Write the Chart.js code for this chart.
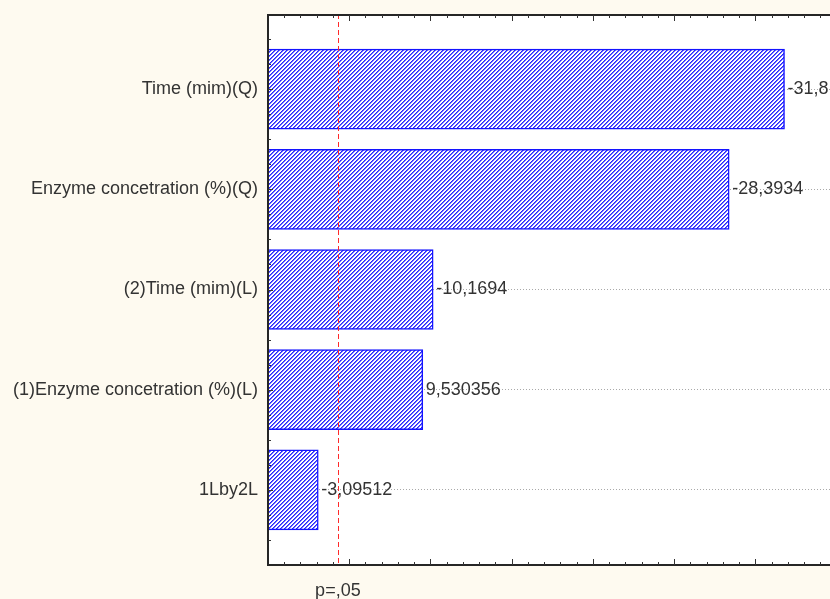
<!DOCTYPE html>
<html lang="en">
<head>
  <meta charset="UTF-8">
  <title>Pareto Chart of Standardized Effects</title>
  <script src="https://cdn.jsdelivr.net/npm/chart.js"></script>
  <style>
    html, body { margin: 0; padding: 0; background: #fefaf0; overflow: hidden; }
    #chartBox { width: 830px; height: 599px; }
  </style>
</head>
<body>
<div id="chartBox"><canvas id="paretoChart" width="830" height="599"></canvas></div>
<script>
  // Factors, top to bottom, with their standardized effects (t-values)
  const factors = ['Time (mim)(Q)', 'Enzyme concetration (%)(Q)', '(2)Time (mim)(L)', '(1)Enzyme concetration (%)(L)', '1Lby2L'];
  const effects = [-31.8, -28.3934, -10.1694, 9.530356, -3.09512];
  const pCrit = 4.303;      // critical t at p = .05
  const pLabel = 'p=,05';
  const xMax = 34.6;        // right part of the plot is cut off in the picture

  const labelFont = { family: '"Liberation Sans", Arial, sans-serif', size: 18 };
  const textColor = '#333';

  const canvas = document.getElementById('paretoChart');
  const ctx = canvas.getContext('2d');

  // blue "/" hatch fill
  function makeHatch() {
    const c = document.createElement('canvas');
    c.width = 4; c.height = 4;
    const g = c.getContext('2d');
    g.fillStyle = '#ffffff';
    g.fillRect(0, 0, 4, 4);
    for (let px = 0; px < 4; px++) {
      for (let py = 0; py < 4; py++) {
        const k = (px + py) % 4;
        if (k === 0) { g.fillStyle = '#2626ff'; g.fillRect(px, py, 1, 1); }
        else if (k === 1) { g.fillStyle = '#6a6aff'; g.fillRect(px, py, 1, 1); }
      }
    }
    return ctx.createPattern(c, 'repeat');
  }

  // background, frame, inner ticks, value labels and the p-line
  const paretoDecor = {
    id: 'paretoDecor',
    beforeDraw(chart) {
      const { ctx, chartArea: a } = chart;
      ctx.save();
      ctx.fillStyle = '#fefaf0';
      ctx.fillRect(0, 0, chart.width, chart.height);
      ctx.fillStyle = '#ffffff';
      ctx.fillRect(a.left, a.top, a.right - a.left, a.bottom - a.top);
      ctx.restore();
    },
    afterDatasetsDraw(chart) {
      const { ctx, chartArea: a, scales: { x, y } } = chart;
      ctx.save();

      // values next to the bars
      ctx.font = labelFont.size + 'px ' + labelFont.family;
      ctx.fillStyle = textColor;
      ctx.textAlign = 'left';
      ctx.textBaseline = 'middle';
      chart.getDatasetMeta(0).data.forEach((bar, i) => {
        ctx.fillText(String(effects[i]).replace('.', ','), bar.x + 3, bar.y);
      });

      // p = .05 line
      const lx = Math.round(x.getPixelForValue(pCrit)) + 0.5;
      ctx.strokeStyle = '#ff2a2a';
      ctx.lineWidth = 1;
      ctx.setLineDash([5, 3]);
      ctx.beginPath();
      ctx.moveTo(lx, a.top);
      ctx.lineTo(lx, a.bottom);
      ctx.stroke();
      ctx.setLineDash([]);

      // frame
      ctx.strokeStyle = '#262626';
      ctx.lineWidth = 2;
      ctx.beginPath();
      ctx.moveTo(a.right + 2, a.top + 1);
      ctx.lineTo(a.left, a.top + 1);
      ctx.lineTo(a.left, a.bottom);
      ctx.lineTo(a.right + 2, a.bottom);
      ctx.stroke();

      // inner ticks
      ctx.lineWidth = 1;
      ctx.strokeStyle = '#333';
      ctx.beginPath();
      for (let v = 1; v <= Math.floor(xMax); v++) {
        const px = Math.round(x.getPixelForValue(v)) + 0.5;
        const len = v % 5 === 0 ? 6 : 3;
        ctx.moveTo(px, a.bottom);
        ctx.lineTo(px, a.bottom - len);
        ctx.moveTo(px, a.top + 1);
        ctx.lineTo(px, a.top + 1 + len);
      }
      for (let k = 1; k < 22; k++) {
        const v = -0.75 + k * 0.25;
        const py = Math.round(y.getPixelForValue(v)) + 0.5;
        const len = Number.isInteger(v) ? 5 : 3;
        ctx.moveTo(a.left, py);
        ctx.lineTo(a.left + len, py);
      }
      ctx.stroke();
      ctx.restore();
    }
  };

  new Chart(ctx, {
    type: 'bar',
    data: {
      datasets: [{
        data: effects.map((v, i) => ({ x: Math.abs(v), y: i })),
        backgroundColor: makeHatch(),
        borderColor: '#1414ff',
        borderWidth: 1.5,
        barThickness: 80
      }]
    },
    options: {
      indexAxis: 'y',
      responsive: false,
      animation: false,
      layout: { padding: { top: 14, right: 0, bottom: 0, left: 0 } },
      plugins: {
        legend: { display: false },
        tooltip: { enabled: false }
      },
      scales: {
        x: {
          type: 'linear',
          min: 0,
          max: xMax,
          grid: { display: false, drawTicks: false },
          border: { display: false },
          afterBuildTicks: s => { s.ticks = [{ value: pCrit }]; },
          afterFit: s => { s.height = 34; s.paddingLeft = 0; s.paddingRight = 0; },
          ticks: {
            callback: () => pLabel,
            font: labelFont,
            color: textColor,
            padding: 15,
            maxRotation: 0,
            autoSkip: false
          }
        },
        y: {
          type: 'linear',
          reverse: true,
          offset: false,
          min: -0.75,
          max: 4.75,
          grid: { color: '#a9a9a9', lineWidth: 1, drawTicks: false, offset: false },
          border: { display: false, dash: [1, 2] },
          afterBuildTicks: s => { s.ticks = factors.map((f, i) => ({ value: i })); },
          afterFit: s => { s.width = 268; s.paddingTop = 0; s.paddingBottom = 0; },
          ticks: {
            callback: v => factors[v],
            font: labelFont,
            color: textColor,
            padding: 10,
            autoSkip: false
          }
        }
      }
    },
    plugins: [paretoDecor]
  });
</script>
</body>
</html>
